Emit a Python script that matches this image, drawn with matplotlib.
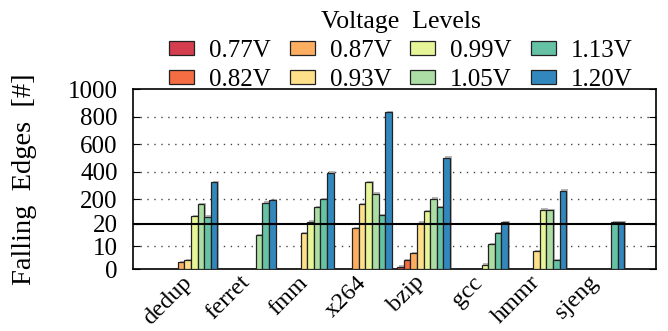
import numpy as np
import matplotlib
matplotlib.use("Agg")
import matplotlib.pyplot as plt
from matplotlib import patheffects as pe
from matplotlib.transforms import ScaledTranslation

plt.rcParams['font.family'] = ['Liberation Serif', 'DejaVu Serif']
plt.rcParams['mathtext.fontset'] = 'stix'

benchmarks = ["dedup", "ferret", "fmm", "x264", "bzip", "gcc", "hmmr", "sjeng"]
voltages = ["0.77V", "0.82V", "0.87V", "0.93V", "0.99V", "1.05V", "1.13V", "1.20V"]
colors = ["#d53e4f", "#f46d43", "#fdae61", "#fee08b", "#e6f598", "#abdda4", "#66c2a5", "#3288bd"]

# values per voltage level, one entry per benchmark
v077 = [0, 0, 0, 0, 1, 0, 0, 0]
v082 = [0, 0, 0, 0, 4, 0, 0, 0]
v087 = [3, 0, 0, 18, 7, 0, 0, 0]
v093 = [4, 0, 16, 161, 28, 0, 8, 0]
v099 = [76, 0, 37, 322, 110, 2, 124, 0]
v105 = [165, 15, 139, 240, 202, 11, 121, 0]
v113 = [71, 175, 200, 81, 143, 16, 4, 30]
v120 = [322, 190, 392, 832, 500, 31, 262, 30]
series = [v077, v082, v087, v093, v099, v105, v113, v120]

yticks = [0, 10, 20, 200, 400, 600, 800, 1000]
grid_levels = [10, 200, 400, 600, 800]
break_level = 20
k = 0.0608

def fwd(y):
    y = np.asarray(y, dtype=float)
    return np.where(y <= break_level, y, break_level + (y - break_level) * k)

def inv(u):
    u = np.asarray(u, dtype=float)
    return np.where(u <= break_level, u, break_level + (u - break_level) / k)

fig = plt.figure(figsize=(6.68, 3.31), dpi=100)
ax = fig.add_axes([0.199, 0.187, 0.783, 0.544])
ax.set_yscale('function', functions=(fwd, inv))
ax.set_ylim(0, 1000)

x = np.arange(1, len(benchmarks) + 1)
n = len(voltages)
w = 0.1136
shadow = [pe.SimplePatchShadow(offset=(1.2, 1.0), shadow_rgbFace='#888888', alpha=0.6), pe.Normal()]
for i, (lab, vals, c) in enumerate(zip(voltages, series, colors)):
    bars = ax.bar(x + (i - (n - 1) / 2) * w, vals, width=w, color=c, edgecolor='#222222',
                  linewidth=0.9, label=lab, zorder=3)
    for b, v in zip(bars, vals):
        if v > 0:
            b.set_path_effects(shadow)
        else:
            b.set_visible(False)

for g in grid_levels:
    ax.axhline(g, color='#444444', linestyle=(0, (1, 4)), linewidth=1.0, zorder=1)
ax.axhline(break_level, color='black', linewidth=1.5, zorder=5)

ax.set_xlim(0, len(benchmarks) + 1)
ax.set_xticks(x)
ax.set_xticklabels(benchmarks, rotation=45, ha='right', va='top', rotation_mode='anchor', fontsize=17.5)
ax.tick_params(axis='x', length=0, pad=2)
shift = ScaledTranslation(-10 / 100, 0, fig.dpi_scale_trans)
for lbl in ax.get_xticklabels():
    lbl.set_transform(lbl.get_transform() + shift)
ax.set_yticks(yticks)
ax.set_yticklabels([str(t) for t in yticks], fontsize=18)
ax.yaxis.set_minor_locator(matplotlib.ticker.NullLocator())
ax.tick_params(axis='y', direction='in', length=5, right=True, pad=11)
ax.set_ylabel("Falling  Edges  [#]", fontsize=20.5, labelpad=22)
for s in ax.spines.values():
    s.set_linewidth(1.2)

handles, labels = ax.get_legend_handles_labels()
leg = fig.legend(handles, labels, ncol=4, loc='upper center', bbox_to_anchor=(0.6, 1.02),
                 frameon=False, fontsize=18, title="Voltage  Levels", title_fontsize=18.5,
                 handlelength=1.0, handleheight=0.5, handletextpad=0.6, columnspacing=0.75,
                 labelspacing=0.28, borderpad=0.2)
for h in leg.legend_handles:
    h.set_visible(True)
    h.set_path_effects([])

fig.savefig("out.png", dpi=100)
